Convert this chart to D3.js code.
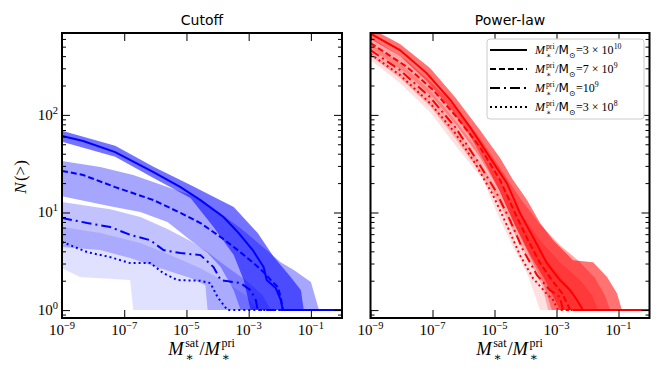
<!DOCTYPE html>
<html>
<head>
<meta charset="utf-8">
<script src="https://cdn.jsdelivr.net/npm/d3@7"></script>
<style>
body { margin: 0; background: #fff; }
</style>
</head>
<body>
<svg id="chart" width="664" height="380"></svg>
<script>
// each point: [log10(M_sat/M_pri), N(>)]
// --- Cutoff panel
const cutSolid = [[-9,60.7],[-8.32,53.9],[-7.29,41.6],[-6.06,25.9],[-5.19,18.2],[-4.55,13.4],[-3.81,9.0],[-3.32,6.15],[-2.87,4.12],[-2.52,2.76],[-2.42,2.03],[-2.13,1.68],[-1.97,1.27],[-1.9,1],[0,1]];
const cutSolidHi = [[-9,68.7],[-7.29,48.2],[-6.06,29.4],[-4.87,19.1],[-4.13,14.5],[-3.48,11.4],[-2.71,6.15],[-2.19,3.49],[-1.65,2.18],[-1.32,1.6],[-1.23,1]];
const cutSolidLo = [[-9,53],[-7.29,37.2],[-6.06,22.5],[-4.87,14.1],[-4.13,7.1],[-3.48,3.66],[-3.16,2.03],[-2.94,1]];

const cutDashed = [[-9,26.7],[-8.32,24.2],[-7.29,18.2],[-6.06,13.4],[-5.19,9.9],[-4.55,7.8],[-3.9,5.6],[-3.35,4.12],[-2.84,3.03],[-2.52,2.45],[-2.29,2.03],[-2.06,1.72],[-1.97,1.36],[-1.9,1],[0,1]];
const cutDashedHi = [[-9,33.6],[-7.77,29.2],[-6.71,24.2],[-5.61,18.2],[-4.87,15.1],[-4.06,10.6],[-3.26,6.9],[-2.61,4.63],[-1.97,3.1],[-1.55,2.57],[-1.0,1.94],[-0.74,1]];
const cutDashedLo = [[-9,14.7],[-7.45,11.6],[-6.48,10.1],[-5.61,7.97],[-4.87,5.2],[-4.32,3.84],[-3.9,2.76],[-3.48,1.6],[-3.26,1]];

const cutDashdot = [[-9,8.8],[-8.19,7.8],[-7.45,7.1],[-6.81,5.9],[-6.16,5.2],[-5.74,4.12],[-5.19,3.84],[-4.55,3.66],[-4.13,2.76],[-3.9,2.03],[-3.26,1.89],[-2.94,1.6],[-2.77,1.27],[-2.71,1],[0,1]];
const cutDashdotHi = [[-9,12.8],[-7.45,10.8],[-6.48,9.0],[-5.61,6.76],[-4.87,5.09],[-4.32,3.93],[-3.74,2.83],[-3.1,2.03],[-2.55,1.42],[-2.29,1]];
const cutDashdotLo = [[-9,4.42],[-7.77,4.12],[-6.81,3.41],[-5.84,2.69],[-4.87,2.13],[-4.39,1.8],[-4.32,1]];

const cutDotted = [[-9,5.0],[-8.19,3.93],[-7.45,3.49],[-6.81,3.03],[-6.16,3.03],[-5.74,2.39],[-5.29,2.03],[-4.55,2.0],[-4.23,1.89],[-4.0,1.36],[-3.68,1],[0,1]];
const cutDottedHi = [[-9,7.1],[-7.77,6.15],[-6.48,4.86],[-5.52,3.66],[-4.55,2.69],[-3.74,1.94],[-3.1,1.42],[-2.71,1]];
const cutDottedLo = [[-9,2.69],[-8.42,2.18],[-6.81,2.03],[-6.71,1]];

// --- Power-law panel
const powSolid = [[-9,681],[-8.05,461],[-7.19,268],[-6.42,142],[-5.79,75],[-5.24,40.6],[-4.6,20],[-4.18,9.9],[-3.76,5.6],[-3.31,3.03],[-2.89,2.03],[-2.56,1.6],[-2.34,1.27],[-2.15,1],[0,1]];
const powSolidHi = [[-9,775],[-8.05,531],[-7.08,302],[-6.27,152],[-5.47,69.9],[-4.82,36.1],[-4.4,21.5],[-3.95,13.4],[-3.53,7.8],[-3.11,5.2],[-2.47,3.25],[-1.82,3.1],[-1.37,2.18],[-1.05,1.49],[-0.89,1]];
const powSolidLo = [[-9,598],[-8.05,400],[-7.21,227],[-6.42,117],[-5.79,60.7],[-5.31,32.8],[-4.82,16.2],[-4.34,7.4],[-3.85,3.66],[-3.37,2.03],[-3.05,1.27],[-2.89,1]];

const powDashed = [[-9,544],[-7.83,311],[-6.98,180],[-6.22,95],[-5.47,46.8],[-4.82,21.5],[-4.34,9.9],[-3.92,5.2],[-3.53,3.03],[-3.15,2.03],[-2.82,1.49],[-2.63,1.12],[-2.56,1],[0,1]];
const powDashedHi = [[-9,627],[-7.85,364],[-6.98,207],[-6.21,115],[-5.47,57.8],[-4.82,28.5],[-4.18,14.1],[-3.53,7.6],[-2.89,4.63],[-2.24,3.1],[-1.76,2.13],[-1.44,1.42],[-1.27,1]];
const powDashedLo = [[-9,483],[-7.85,268],[-6.98,149],[-6.21,76.8],[-5.47,36.9],[-4.82,16.2],[-4.34,7.4],[-3.85,3.49],[-3.44,1.94],[-3.15,1]];

const powDashdot = [[-9,461],[-8.05,288],[-7.08,152],[-6.27,75],[-5.63,36.9],[-4.98,17],[-4.5,8.36],[-4.08,4.12],[-3.63,2.28],[-3.21,1.6],[-2.89,1.36],[-2.79,1],[0,1]];
const powDashdotHi = [[-9,531],[-8.05,339],[-7.08,180],[-6.27,88.4],[-5.53,43.6],[-4.82,20.5],[-4.18,10.1],[-3.53,5.2],[-2.89,3.1],[-2.24,2.03],[-1.85,1.42],[-1.66,1]];
const powDashdotLo = [[-9,400],[-8.05,238],[-7.08,123],[-6.27,57.8],[-5.47,25.9],[-4.82,11.9],[-4.34,5.9],[-3.85,3.1],[-3.47,1.8],[-3.27,1]];

const powDotted = [[-9,420],[-8.05,256],[-7.08,132],[-6.27,65.1],[-5.63,32.1],[-5.05,15.1],[-4.6,7.4],[-4.18,3.66],[-3.76,2.13],[-3.37,1.53],[-3.11,1.27],[-2.95,1],[0,1]];
const powDottedHi = [[-9,483],[-8.05,302],[-7.08,160],[-6.27,78.6],[-5.63,38.7],[-4.98,19.1],[-4.34,9.4],[-3.69,4.63],[-3.05,2.57],[-2.56,1.68],[-2.24,1]];
const powDottedLo = [[-9,364],[-8.05,212],[-7.08,107],[-6.27,49.1],[-5.37,21.5],[-4.92,9.9],[-4.4,4.42],[-3.95,2.39],[-3.53,1]];

const xTickExp = [-9, -7, -5, -3, -1];
const yTickExp = [0, 1, 2];
const legendMass = ['3 × 10', '7 × 10', '10', '3 × 10'];
const legendExp = ['10', '9', '9', '8'];

// styles
const dashes = { solid: null, dashed: '6,3', dashdot: '10,4,2,4', dotted: '2,3' };
const bandAlpha = { solid: 0.55, dashed: 0.35, dashdot: 0.24, dotted: 0.12 };
const serif = "'Liberation Serif', 'DejaVu Serif', serif";

const svg = d3.select('#chart');
const y = d3.scaleLog().domain([0.83, 690]).range([318, 33]);
const yMinor = [];
[-1, 0, 1, 2].forEach(k => d3.range(2, 10).forEach(m => {
  const v = m * Math.pow(10, k);
  if (v > y.domain()[0] && v < y.domain()[1]) yMinor.push(v);
}));

function drawPanel(x0, x1, title, color, curves, id) {
  const x = d3.scaleLog().domain([1e-9, 1]).range([x0, x1]);
  const g = svg.append('g');

  svg.append('clipPath').attr('id', id)
    .append('rect').attr('x', x0).attr('y', y.range()[1]).attr('width', x1 - x0).attr('height', y.range()[0] - y.range()[1]);
  const plot = g.append('g').attr('clip-path', `url(#${id})`);

  const line = d3.line().x(d => x(Math.pow(10, d[0]))).y(d => y(d[1]));

  // bands first, lightest first
  ['dotted', 'dashdot', 'dashed', 'solid'].forEach(k => {
    const c = curves[k];
    plot.append('path')
      .attr('d', line(c.hi.concat(c.lo.slice().reverse())) + 'Z')
      .attr('fill', color).attr('fill-opacity', bandAlpha[k]).attr('stroke', 'none');
  });
  ['dotted', 'dashdot', 'dashed', 'solid'].forEach(k => {
    plot.append('path')
      .attr('d', line(curves[k].mid))
      .attr('fill', 'none').attr('stroke', color).attr('stroke-width', 2)
      .attr('stroke-dasharray', dashes[k]);
  });

  // ticks, pointing inwards on all four sides
  const xt = xTickExp.map(e => Math.pow(10, e));
  const yt = yTickExp.map(e => Math.pow(10, e));
  const axes = [
    [d3.axisBottom(x).tickValues(xt).tickSize(-8), `translate(0,${y.range()[0]})`],
    [d3.axisTop(x).tickValues(xt).tickSize(-8), `translate(0,${y.range()[1]})`],
    [d3.axisLeft(y).tickValues(yt).tickSize(-8), `translate(${x0},0)`],
    [d3.axisRight(y).tickValues(yt).tickSize(-8), `translate(${x1},0)`],
    [d3.axisLeft(y).tickValues(yMinor).tickSize(-4), `translate(${x0},0)`],
    [d3.axisRight(y).tickValues(yMinor).tickSize(-4), `translate(${x1},0)`]
  ];
  axes.forEach(([ax, tr]) => {
    g.append('g').attr('transform', tr)
      .call(ax.tickFormat(() => ''))
      .call(a => a.select('.domain').remove())
      .call(a => a.selectAll('text').remove())
      .call(a => a.selectAll('line').attr('stroke', '#000').attr('stroke-width', 1));
  });

  g.append('rect').attr('x', x0).attr('y', y.range()[1])
    .attr('width', x1 - x0).attr('height', y.range()[0] - y.range()[1])
    .attr('fill', 'none').attr('stroke', '#000').attr('stroke-width', 2);

  xTickExp.forEach(e => powLabel(g, x(Math.pow(10, e)), 335, e, 'middle'));

  g.append('text').attr('x', (x0 + x1) / 2).attr('y', 25)
    .attr('text-anchor', 'middle')
    .style('font-family', "'DejaVu Sans', sans-serif").style('font-size', '14px')
    .text(title);

  mathText(g, (x0 + x1) / 2, 355, [
    { t: 'M', it: true }, { sub: '∗', sup: 'sat' }, { t: '/' },
    { t: 'M', it: true }, { sub: '∗', sup: 'pri' }
  ], 18.5, 'middle');
  return x;
}

function powLabel(g, px, py, e, anchor) {
  const t = g.append('text').attr('x', px).attr('y', py).attr('text-anchor', anchor)
    .style('font-family', serif).style('font-size', '15px');
  t.append('tspan').text('10');
  t.append('tspan').attr('dy', -6).style('font-size', '10.5px').text(e < 0 ? '−' + (-e) : e);
}

// one <text> holding all pieces, sub/superscripts stacked like TeX
function mathText(g, px, py, parts, size, anchor) {
  const t = g.append('text').attr('transform', `translate(${px},${py})`)
    .style('font-family', serif).style('font-size', size + 'px');
  let cx = 0;
  const small = size * 0.65;
  parts.forEach(p => {
    if (p.t !== undefined) {
      const el = t.append('tspan').attr('x', cx).attr('y', 0)
        .style('font-family', p.sans ? "'DejaVu Sans', sans-serif" : serif)
        .style('font-style', p.it ? 'italic' : 'normal').text(p.t);
      cx += el.node().getComputedTextLength() + (p.it ? size * 0.08 : 0);
    } else {
      let w = 0;
      if (p.sup) {
        const el = t.append('tspan').attr('x', cx).attr('y', -size * 0.45)
          .style('font-size', small + 'px').text(p.sup);
        w = Math.max(w, el.node().getComputedTextLength());
      }
      if (p.sub) {
        const el = t.append('tspan').attr('x', cx).attr('y', size * 0.32)
          .style('font-size', small + 'px').text(p.sub);
        w = Math.max(w, el.node().getComputedTextLength());
      }
      cx += w + size * 0.05;
    }
  });
  const off = anchor === 'middle' ? -cx / 2 : anchor === 'end' ? -cx : 0;
  t.selectAll('tspan').attr('x', function () { return +this.getAttribute('x') + off; });
  return t;
}

drawPanel(62, 342, 'Cutoff', '#0000ff', {
  solid: { mid: cutSolid, hi: cutSolidHi, lo: cutSolidLo },
  dashed: { mid: cutDashed, hi: cutDashedHi, lo: cutDashedLo },
  dashdot: { mid: cutDashdot, hi: cutDashdotHi, lo: cutDashdotLo },
  dotted: { mid: cutDotted, hi: cutDottedHi, lo: cutDottedLo }
}, 'clipL');

drawPanel(370.5, 649.5, 'Power-law', '#ff0000', {
  solid: { mid: powSolid, hi: powSolidHi, lo: powSolidLo },
  dashed: { mid: powDashed, hi: powDashedHi, lo: powDashedLo },
  dashdot: { mid: powDashdot, hi: powDashdotHi, lo: powDashdotLo },
  dotted: { mid: powDotted, hi: powDottedHi, lo: powDottedLo }
}, 'clipR');

// y tick labels (left panel only)
yTickExp.forEach(e => powLabel(svg, 58, y(Math.pow(10, e)) + 5, e, 'end'));

// y axis title
const yl = svg.append('g').attr('transform', 'translate(26,177) rotate(-90)');
mathText(yl, 0, 0, [{ t: 'N', it: true }, { t: '(>)' }], 17, 'middle');

// legend
const lg = svg.append('g');
lg.append('rect').attr('x', 487).attr('y', 39).attr('width', 157).attr('height', 80)
  .attr('rx', 3).attr('fill', '#fff').attr('stroke', '#ccc').attr('stroke-width', 1);
['solid', 'dashed', 'dashdot', 'dotted'].forEach((k, i) => {
  const ly = 50 + i * 19;
  lg.append('line').attr('x1', 490).attr('x2', 527).attr('y1', ly).attr('y2', ly)
    .attr('stroke', '#000').attr('stroke-width', 2).attr('stroke-dasharray', dashes[k]);
  const parts = [
    { t: 'M', it: true }, { sub: '∗', sup: 'pri' }, { t: '/' },
    { t: 'M', sans: true }, { sub: '⊙' }, { t: '=' + legendMass[i] }, { sup: legendExp[i] }
  ];
  mathText(lg, 535, ly + 4, parts, 12, 'start');
});
</script>
</body>
</html>
